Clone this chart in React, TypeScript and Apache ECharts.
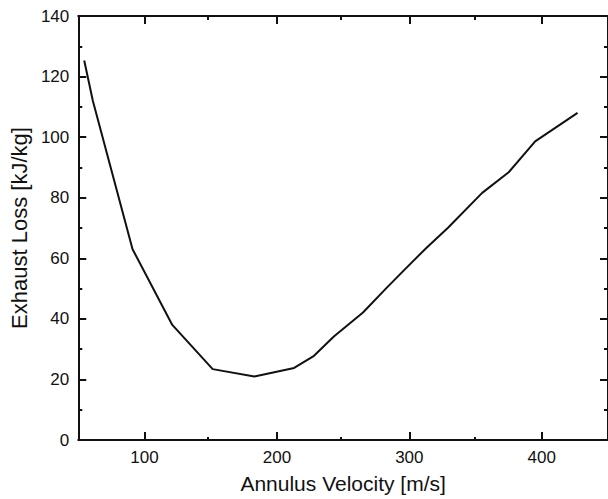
import React, { useEffect, useRef } from "react";
import * as echarts from "echarts";

const velocity = [54.5, 61, 91, 121, 151.5, 183, 213, 228, 243, 265, 283, 297, 313, 329, 355, 375, 395, 427];
const exhaustLoss = [125.3, 112, 63, 38, 23.4, 21, 23.8, 27.8, 34.2, 42.1, 50.3, 56.5, 63.5, 70, 81.6, 88.4, 98.6, 108];
const xMajorTicks = [100, 200, 300, 400];
const xMinorTicks = [150, 250, 350];

const FONT = "'Liberation Sans', Arial, sans-serif";
const INK = "#111";

export default function App() {
  const ref = useRef<HTMLDivElement>(null);
  useEffect(() => {
    if (!ref.current) return;
    const chart = echarts.init(ref.current, null, { renderer: "svg" });
    const gridRect = { left: 74, top: 16, width: 537, height: 425 };
    const lineStyle = { color: INK, width: 2 };
    const majorTick = { show: true, inside: true, length: 8, lineStyle: { color: INK, width: 2 } };
    const minorTickStyle = { show: true, inside: true, length: 4, lineStyle: { color: INK, width: 2 } };
    chart.setOption({
      animation: false,
      backgroundColor: "#fff",
      grid: [
        { ...gridRect, containLabel: false },
        { ...gridRect, containLabel: false },
      ],
      xAxis: [
        {
          type: "value",
          gridIndex: 0,
          position: "bottom",
          min: 50,
          max: 450,
          name: "Annulus Velocity [m/s]",
          nameLocation: "middle",
          nameGap: 33,
          nameTextStyle: { fontFamily: FONT, fontSize: 21, color: INK },
          axisLine: { show: true, onZero: false, lineStyle },
          axisTick: { ...majorTick, customValues: xMajorTicks },
          axisLabel: {
            customValues: xMajorTicks,
            margin: 9,
            fontFamily: FONT,
            fontSize: 17,
            color: INK,
          },
          splitLine: { show: false },
        },
        {
          type: "value",
          gridIndex: 0,
          position: "top",
          min: 50,
          max: 450,
          axisLine: { show: true, onZero: false, lineStyle },
          axisTick: { ...majorTick, customValues: xMajorTicks },
          axisLabel: { show: false },
          splitLine: { show: false },
        },
        {
          type: "value",
          gridIndex: 1,
          position: "bottom",
          min: 50,
          max: 450,
          axisLine: { show: false, onZero: false },
          axisTick: { ...minorTickStyle, customValues: xMinorTicks },
          axisLabel: { show: false },
          splitLine: { show: false },
        },
        {
          type: "value",
          gridIndex: 1,
          position: "top",
          min: 50,
          max: 450,
          axisLine: { show: false, onZero: false },
          axisTick: { ...minorTickStyle, customValues: xMinorTicks },
          axisLabel: { show: false },
          splitLine: { show: false },
        },
      ],
      yAxis: [
        {
          type: "value",
          gridIndex: 0,
          position: "left",
          min: 0,
          max: 140,
          interval: 20,
          name: "Exhaust Loss [kJ/kg]",
          nameLocation: "middle",
          nameGap: 36,
          nameTextStyle: { fontFamily: FONT, fontSize: 22, color: INK },
          axisLine: { show: true, onZero: false, lineStyle },
          axisTick: majorTick,
          minorTick: { show: true, splitNumber: 2, length: 4, lineStyle: { color: INK, width: 2 } },
          axisLabel: { margin: 9, fontFamily: FONT, fontSize: 17, color: INK },
          splitLine: { show: false },
          minorSplitLine: { show: false },
        },
        {
          type: "value",
          gridIndex: 0,
          position: "right",
          min: 0,
          max: 140,
          interval: 20,
          axisLine: { show: true, onZero: false, lineStyle },
          axisTick: majorTick,
          minorTick: { show: true, splitNumber: 2, length: 4, lineStyle: { color: INK, width: 2 } },
          axisLabel: { show: false },
          splitLine: { show: false },
          minorSplitLine: { show: false },
        },
        {
          type: "value",
          gridIndex: 1,
          min: 0,
          max: 140,
          show: false,
        },
      ],
      series: [
        {
          type: "line",
          xAxisIndex: 0,
          yAxisIndex: 0,
          data: velocity.map((v, i) => [v, exhaustLoss[i]]),
          showSymbol: false,
          symbol: "none",
          lineStyle: { color: INK, width: 2 },
        },
      ],
    });
    return () => chart.dispose();
  }, []);
  return (
    <div
      ref={ref}
      style={{ position: "fixed", left: 0, top: 0, width: 608, height: 499, background: "#fff" }}
    />
  );
}
